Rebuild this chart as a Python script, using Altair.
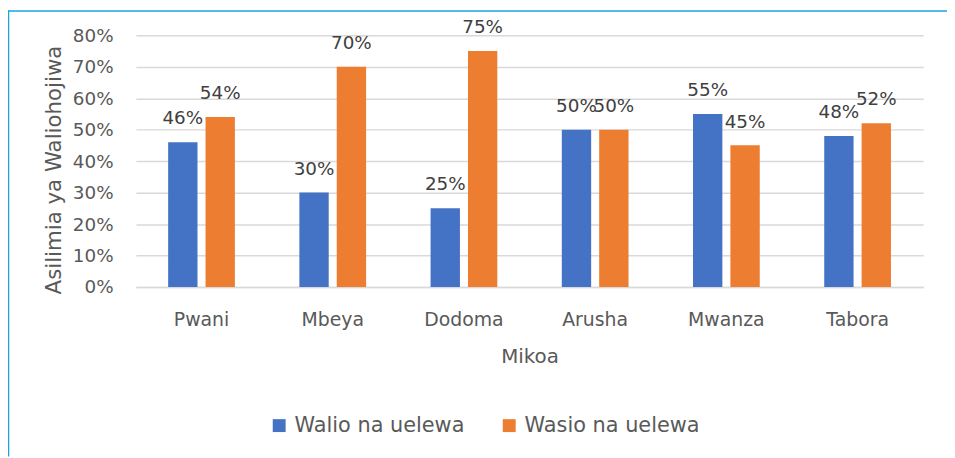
import altair as alt
import pandas as pd

regions = ["Pwani", "Mbeya", "Dodoma", "Arusha", "Mwanza", "Tabora"]
series = ["Walio na uelewa", "Wasio na uelewa"]
walio = [0.46, 0.30, 0.25, 0.50, 0.55, 0.48]
wasio = [0.54, 0.70, 0.75, 0.50, 0.45, 0.52]
colors = ["#4472C4", "#ED7D31"]
y_ticks = [0.0, 0.1, 0.2, 0.3, 0.4, 0.5, 0.6, 0.7, 0.8]

rows = []
for r, a, b in zip(regions, walio, wasio):
    rows.append({"Mkoa": r, "Kundi": series[0], "value": a})
    rows.append({"Mkoa": r, "Kundi": series[1], "value": b})
df = pd.DataFrame(rows)

FONT = "DejaVu Sans"
GREY = "#595959"

x_enc = alt.X(
    "Mkoa:N",
    sort=regions,
    scale=alt.Scale(paddingInner=0.4302, paddingOuter=0.2151),
    axis=alt.Axis(
        title="Mikoa",
        labelAngle=0,
        labelFontSize=19,
        labelColor=GREY,
        labelBaseline="alphabetic",
        labelPadding=39,
        ticks=False,
        tickSize=0,
        domainColor="#D9D9D9",
        domainWidth=1.5,
        titleFontSize=20,
        titleFontWeight="normal",
        titleColor=GREY,
        titleX=397,
        titleY=76,
        titleAlign="center",
        titleBaseline="alphabetic",
    ),
)
xoff_enc = alt.XOffset(
    "Kundi:N",
    sort=series,
    scale=alt.Scale(domain=series, paddingInner=0.215, paddingOuter=0.1075),
)
y_enc = alt.Y(
    "value:Q",
    scale=alt.Scale(domain=[0, 0.8], nice=False),
    axis=alt.Axis(
        title="Asilimia ya Waliohojiwa",
        format=".0%",
        values=y_ticks,
        labelOverlap=False,
        grid=True,
        gridColor="#D9D9D9",
        gridWidth=1.5,
        domain=False,
        ticks=False,
        tickSize=0,
        labelPadding=23,
        labelFontSize=18.5,
        labelColor=GREY,
        titleFontSize=21.5,
        titleFontWeight="normal",
        titleColor=GREY,
        titleAngle=270,
        titleX=-76,
        titleY=135.5,
        titleAlign="center",
        titleBaseline="alphabetic",
    ),
)
color_enc = alt.Color(
    "Kundi:N",
    scale=alt.Scale(domain=series, range=colors),
    legend=alt.Legend(
        title=None,
        orient="none",
        direction="horizontal",
        legendX=134,
        legendY=383,
        symbolType="square",
        symbolSize=169,
        symbolStrokeWidth=0,
        labelFontSize=21,
        labelColor=GREY,
        labelOffset=5,
        labelLimit=400,
        columnPadding=34,
        padding=0,
    ),
)

base = alt.Chart(df)

bars = base.mark_bar().encode(x=x_enc, xOffset=xoff_enc, y=y_enc, color=color_enc)

labels = base.mark_text(
    baseline="alphabetic", dy=-18, fontSize=18.5, color="#404040"
).encode(
    x=x_enc,
    xOffset=xoff_enc,
    y=y_enc,
    text=alt.Text("value:Q", format=".0%"),
)

frame_src = alt.Chart(alt.Data(values=[{"k": 1}]))
top_line = frame_src.mark_rule(color="#1BA1E2", strokeWidth=1.5).encode(
    x=alt.value(-129), x2=alt.value(818), y=alt.value(-24.5)
)
left_line = frame_src.mark_rule(color="#1BA1E2", strokeWidth=1.5).encode(
    x=alt.value(-128.5), y=alt.value(-25), y2=alt.value(425)
)

chart = (
    alt.layer(bars, labels, top_line, left_line)
    .properties(
        width=794,
        height=254,
        padding={"left": 129, "top": 25.5, "right": 24, "bottom": 170.5},
        autosize=alt.AutoSizeParams(type="none"),
    )
    .configure(font=FONT)
    .configure_view(stroke=None)
)

chart.save("out.html", embed_options={"renderer": "svg", "actions": False})
